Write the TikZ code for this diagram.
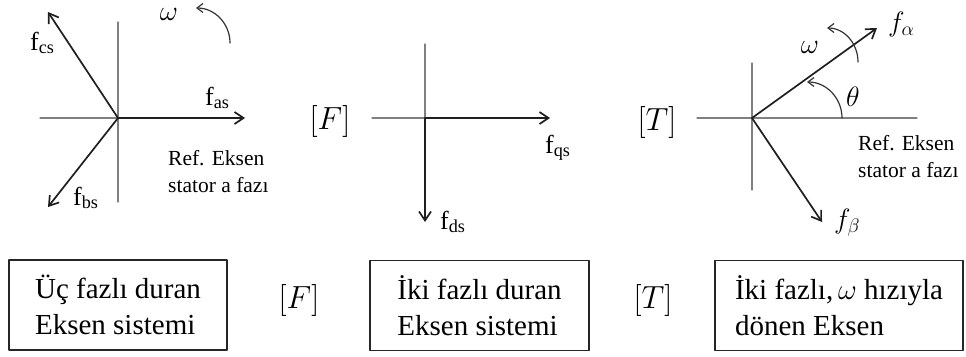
\documentclass[tikz,border=0pt]{standalone}
\usepackage{fix-cm}
\usepackage{fontspec}
\setmainfont{Liberation Serif}
\usetikzlibrary{arrows.meta}

\begin{document}
\begin{tikzpicture}[x=1pt, y=-1pt, line cap=round, line join=round]

% ---------------- styles ----------------
\tikzset{
  eksAxis/.style ={draw=black!50, line width=1.2pt},
  eksVec/.style  ={draw=black!88, line width=1.7pt,
                   -{Straight Barb[length=9pt, width=12pt]}},
  eksRot/.style  ={draw=black!80, line width=1.2pt,
                   -{Straight Barb[length=6pt, width=9pt]}},
  eksLbl/.style  ={inner sep=0pt, font=\fontsize{26}{30}\selectfont},
  eksRef/.style  ={inner sep=0pt, align=left, font=\fontsize{21.5}{27.5}\selectfont},
  eksMath/.style ={inner sep=0pt, font=\fontsize{28}{32}\selectfont},
  eksMat/.style  ={inner sep=0pt, font=\fontsize{32}{36}\selectfont},
  eksBox/.style  ={draw=black!85, line width=1.4pt, minimum height=90pt,
                   align=left, inner sep=0pt, font=\fontsize{29}{36}\selectfont}
}

\useasboundingbox (0,0) rectangle (966,356);

% ---------------- parameters ----------------
\def\Ra{34}   % rotation arrow x radius
\def\Rb{35}   % rotation arrow y radius

% ---------------- three phase, stationary ----------------
\coordinate (oA)   at (118,118);
\coordinate (fasT) at (245,118);
\coordinate (fbsT) at (48,207);
\coordinate (fcsT) at (48,12);

\draw[eksAxis] (oA) ++(-78,0) -- (oA);
\draw[eksAxis] (oA) ++(0,-96) -- ++(0,180);

\draw[eksVec] (oA) -- (fasT);
\draw[eksVec] (oA) -- (fbsT);
\draw[eksVec] (oA) -- (fcsT);

\node[eksLbl, anchor=base west] (fasL) at (205,105) {f\textsubscript{as}};
\node[eksLbl, anchor=base west] (fcsL) at (30,50)   {f\textsubscript{cs}};
\node[eksLbl, anchor=base west] (fbsL) at (73,205)  {f\textsubscript{bs}};
\node[eksRef, anchor=north west] (refA) at (168,150) {Ref. Eksen\\stator a fazı};

% omega
\node[eksMath, text height=12pt, text depth=0pt] (wA) at (169,14) {$\omega$};
\draw[eksRot] (196,43) ++(\Ra,0) arc[start angle=0, end angle=-90, x radius=\Ra, y radius=\Rb];

% ---------------- two phase, stationary ----------------
\coordinate (oB)   at (425,118);
\coordinate (fqsT) at (550,118);
\coordinate (fdsT) at (425,222);

\draw[eksAxis] (oB) ++(-53,0) -- (oB);
\draw[eksAxis] (oB) ++(0,-74) -- (oB);

\draw[eksVec] (oB) -- (fqsT);
\draw[eksVec] (oB) -- (fdsT);

\node[eksLbl, anchor=base west] (fqsL) at (545,153) {f\textsubscript{qs}};
\node[eksLbl, anchor=base west] (fdsL) at (440,229) {f\textsubscript{ds}};
\node[eksMat] (matF) at (330,121) {$[F]$};

% ---------------- two phase, rotating ----------------
\coordinate (oC)  at (752,118);
\coordinate (faT) at (877,28);
\coordinate (fbT) at (822,222);

\draw[eksAxis] (oC) ++(-55,0) -- ++(220,0);
\draw[eksAxis] (oC) ++(0,-55) -- ++(0,127);

\draw[eksVec] (oC) -- (faT);
\draw[eksVec] (oC) -- (fbT);

\node[eksMath, anchor=base west] (faL) at (888,31)  {$f_\alpha$};
\node[eksMath, anchor=base west] (fbL) at (834,228) {$f_\beta$};
\node[eksRef, anchor=north west] (refC) at (858,135) {Ref. Eksen\\stator a fazı};
\node[eksMat] (matT) at (657,122) {$[T]$};

% theta and omega
\node[eksMath] (thC) at (853,97) {$\theta$};
\draw[eksRot] (oC) ++(90,0) arc[start angle=0, end angle=-90, x radius=35, y radius=36];
\node[eksMath] (wC) at (810,47) {$\omega$};
\draw[eksRot] (827,62) ++(31,0) arc[start angle=0, end angle=-90, x radius=31, y radius=34];

% ---------------- bottom row ----------------
\node[eksBox, minimum width=218pt] (boxA) at (118,305)   {Üç fazlı duran\\Eksen sistemi};
\node[eksMat] (matFb) at (299,300) {$[F]$};
\node[eksBox, minimum width=219pt] (boxB) at (479.5,305.5) {İki fazlı duran\\Eksen sistemi};
\node[eksMat] (matTb) at (653,300) {$[T]$};
\node[eksBox, minimum width=248pt] (boxC) at (839,305.5) {İki fazlı,\,$\omega$ hızıyla\\dönen Eksen};

\end{tikzpicture}
\end{document}
